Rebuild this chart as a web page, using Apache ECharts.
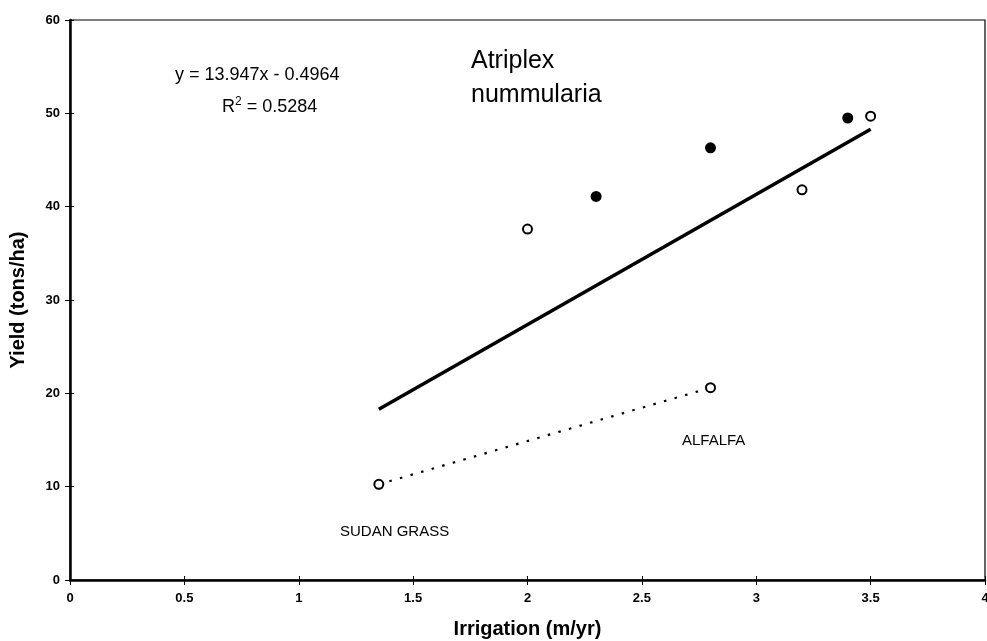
<!DOCTYPE html>
<html>
<head>
<meta charset="utf-8">
<script src="https://cdn.jsdelivr.net/npm/echarts@6/dist/echarts.min.js"></script>
<style>html,body{margin:0;padding:0;background:#fff;}#c{width:987px;height:641px;}</style>
</head>
<body>
<div id="c"></div>
<script>
// Atriplex nummularia – open circles
const atriplexOpen = [[2.0, 37.6], [3.2, 41.8], [3.5, 49.7]];
// Atriplex nummularia – filled circles
const atriplexFilled = [[2.3, 41.1], [2.8, 46.3], [3.4, 49.5]];
// Linear fit (endpoints)
const fitLine = [[1.35, 18.3], [3.5, 48.3]];
// Sudan grass and alfalfa
const conventional = [[1.35, 10.25], [2.8, 20.6]];
const xTicks = [0, 0.5, 1, 1.5, 2, 2.5, 3, 3.5, 4];
const yTicks = [0, 10, 20, 30, 40, 50, 60];
const eqText = 'y = 13.947x - 0.4964';
const r2Text = 'R{s|2} = 0.5284';
const titleLines = ['Atriplex', 'nummularia'];
const labelAlfalfa = 'ALFALFA';
const labelSudan = 'SUDAN GRASS';

const F = "'Liberation Sans', Arial, sans-serif";
const FN = "'Liberation Sans Narrow', 'Liberation Sans', Arial, sans-serif";
const chart = echarts.init(document.getElementById('c'), null, {renderer: 'canvas'});
const tickLbl = {color: '#000', fontFamily: FN, fontWeight: 'bold', fontSize: 13};
const openStyle = {color: '#fff', borderColor: '#000', borderWidth: 2, opacity: 1};
chart.setOption({
  backgroundColor: '#fff',
  animation: false,
  grid: {left: 70, right: 2, top: 20, bottom: 61, show: true, borderColor: '#000', borderWidth: 1.2,
    outerBoundsMode: 'none', containLabel: false},
  xAxis: [{
    type: 'value', min: xTicks[0], max: xTicks[xTicks.length - 1], interval: 0.5,
    axisLine: {lineStyle: {color: '#000', width: 2.5}},
    axisTick: {show: true, length: 5, lineStyle: {color: '#000', width: 1}},
    splitLine: {show: false},
    axisLabel: Object.assign({margin: 12, formatter: v => String(v), showMaxLabel: true, hideOverlap: false}, tickLbl),
    name: 'Irrigation (m/yr)', nameLocation: 'middle', nameGap: 39,
    nameTextStyle: {color: '#000', fontFamily: FN, fontWeight: 'bold', fontSize: 20}
  }, {
    type: 'value', min: xTicks[0], max: xTicks[xTicks.length - 1], interval: 0.5, position: 'bottom',
    axisLine: {show: false}, axisTick: {show: true, inside: true, length: 4, lineStyle: {color: '#000', width: 1}},
    axisLabel: {show: false}, splitLine: {show: false}
  }],
  yAxis: [{
    type: 'value', min: yTicks[0], max: yTicks[yTicks.length - 1], interval: 10,
    axisLine: {show: true, lineStyle: {color: '#000', width: 2.5}},
    axisTick: {show: true, length: 5, lineStyle: {color: '#000', width: 1}},
    splitLine: {show: false},
    axisLabel: Object.assign({margin: 10}, tickLbl),
    name: 'Yield (tons/ha)', nameLocation: 'middle', nameGap: 42,
    nameTextStyle: {color: '#000', fontFamily: FN, fontWeight: 'bold', fontSize: 20}
  }, {
    type: 'value', min: yTicks[0], max: yTicks[yTicks.length - 1], interval: 10, position: 'left',
    axisLine: {show: false}, axisTick: {show: true, inside: true, length: 4, lineStyle: {color: '#000', width: 1}},
    axisLabel: {show: false}, splitLine: {show: false}
  }],
  series: [
    {type: 'line', data: fitLine, showSymbol: false, symbol: 'none',
      lineStyle: {color: '#000', width: 3.5}, z: 2},
    {type: 'line', data: conventional, symbol: 'circle', symbolSize: 9, showSymbol: true,
      itemStyle: openStyle,
      lineStyle: {color: '#000', width: 2.2, type: [2.5, 8.5]}, z: 3},
    {type: 'scatter', data: atriplexOpen, symbol: 'circle', symbolSize: 9,
      itemStyle: openStyle, z: 4},
    {type: 'scatter', data: atriplexFilled, symbol: 'circle', symbolSize: 11,
      itemStyle: {color: '#000', opacity: 1}, z: 4}
  ],
  graphic: [
    {type: 'text', left: 175, top: 66, style: {text: eqText, fill: '#000', font: '18px ' + F}},
    {type: 'text', left: 222, top: 96, style: {text: r2Text, fill: '#000', font: '18px ' + F,
      rich: {s: {fontSize: 12, verticalAlign: 'top', padding: [0, 0, 10, 0], fontFamily: F}}}},
    {type: 'text', left: 471, top: 44, style: {text: titleLines.join('\n'), fill: '#000', font: '25px ' + F, lineHeight: 34}},
    {type: 'text', left: 682, top: 433, style: {text: labelAlfalfa, fill: '#000', font: '15px ' + F}},
    {type: 'text', left: 340, top: 524, style: {text: labelSudan, fill: '#000', font: '15px ' + F}}
  ]
});
</script>
</body>
</html>
